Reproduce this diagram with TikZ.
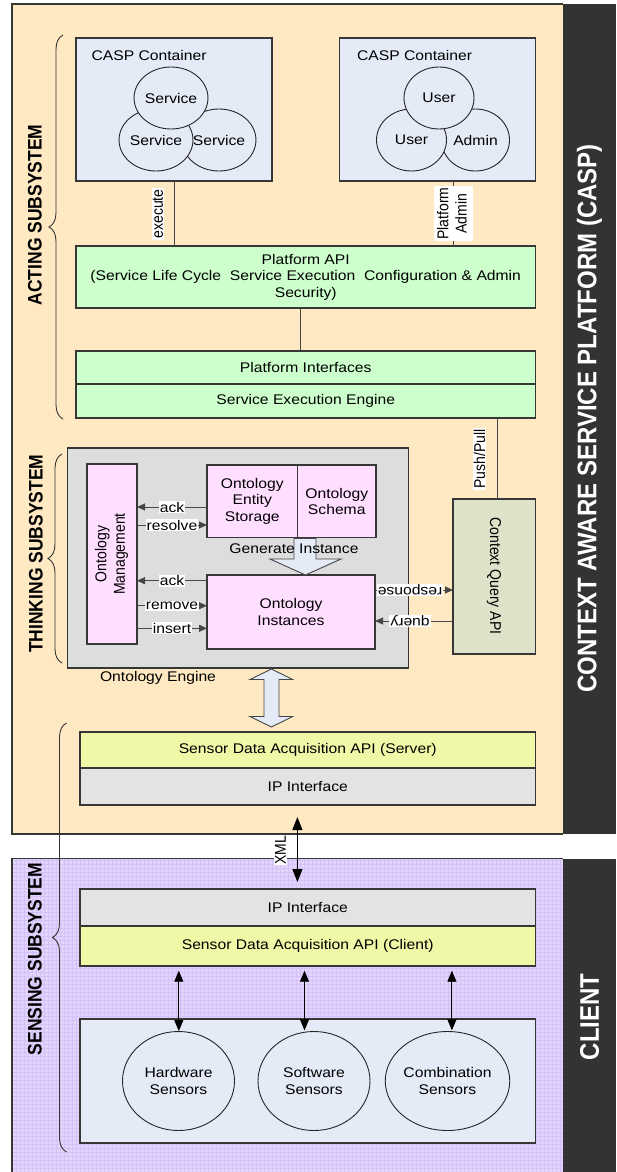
\documentclass[tikz,border=0pt]{standalone}
\usepackage{graphicx}
\usepackage{fontspec}
\setmainfont{Liberation Sans}[FakeStretch=1.12]
\newfontfamily\plainsans{Liberation Sans}
\usetikzlibrary{arrows.meta,decorations.pathreplacing,shapes.geometric}

\definecolor{orangebg}{RGB}{254,233,194}
\definecolor{contblue}{RGB}{228,235,247}
\definecolor{apigreen}{RGB}{204,255,204}
\definecolor{enggray}{RGB}{221,221,221}
\definecolor{ontpink}{RGB}{255,222,255}
\definecolor{cqgreen}{RGB}{221,226,200}
\definecolor{acqyellow}{RGB}{238,248,166}
\definecolor{ipgray}{RGB}{227,227,227}
\definecolor{darkbar}{RGB}{51,51,51}
\definecolor{lilac}{RGB}{226,212,252}
\definecolor{lilacgrid}{RGB}{212,194,247}
\definecolor{edge}{RGB}{55,55,55}
\definecolor{linkc}{RGB}{70,70,70}

\newcommand\fs{\fontsize{14}{16.5}\selectfont}
\newcommand\tall[1]{\scalebox{1}[1.12]{#1}}
\newcommand\sidefont{\plainsans\bfseries\fontsize{17.5}{20}\selectfont}
\newcommand\barfont{\plainsans\bfseries\fontsize{24}{28}\selectfont}
\newcommand\twolines[2]{\begin{tabular}{@{}c@{}}#1\\#2\end{tabular}}

\begin{document}
\begin{tikzpicture}[x=1pt,y=-1pt,
  box/.style={draw=edge, line width=1.1pt, inner sep=0pt, outer sep=0pt,
              anchor=north west, align=center, font=\fs},
  ell/.style={ellipse, draw=black!85, line width=0.9pt, inner sep=0pt,
              align=center, font=\fs, fill=contblue},
  link/.style={draw=linkc, line width=1pt},
  tag/.style={fill=white, inner sep=1pt, font=\fs},
  vtag/.style={fill=white, inner sep=1pt, rotate=90, font=\plainsans\fs},
  small/.style={draw=linkc, line width=0.9pt, -{Triangle[length=8pt,width=7pt]}},
  twoway/.style={draw=black, line width=0.9pt,
                 {Triangle[length=11pt,width=9pt]}-{Triangle[length=11pt,width=9pt]}},
  bigtwoway/.style={draw=black, line width=1pt,
                 {Triangle[length=13pt,width=10pt]}-{Triangle[length=13pt,width=10pt]}},
  block/.style={draw=linkc, line width=0.9pt, fill=contblue, line join=miter},
  bracec/.style={draw=black!80, line width=0.9pt, decorate,
                 decoration={brace, amplitude=14pt}},
  side/.style={rotate=90, font=\sidefont, inner sep=0pt},
  bartext/.style={rotate=90, text=white, font=\barfont, inner sep=0pt},
]
\fill[white] (0,0) rectangle (616,1172);
\useasboundingbox (0,0) rectangle (616,1172);

% platform and client areas
\fill[orangebg] (12,4) rectangle (562.7,834);
\fill[lilac] (12,858.7) rectangle (562.7,1172);
\draw[lilacgrid, line width=0.7pt, step=4pt] (12,1172) grid (562.7,858.7);
\draw[edge, line width=1.3pt] (562.7,4) -- (12,4) -- (12,834) -- (562.7,834);
\draw[edge, line width=1.3pt] (562.7,858.7) -- (12,858.7) -- (12,1172);
\fill[darkbar] (562.7,4) rectangle (616,834);
\fill[darkbar] (562.7,858.7) rectangle (616,1172);
\node[bartext] (casp) at (589.5,418.5) {\tall{CONTEXT AWARE SERVICE PLATFORM (CASP)}};
\node[bartext] (client) at (589.5,1016.7) {\tall{CLIENT}};

% subsystem braces and titles
\draw[bracec] (63,419) -- (63,35);
\draw[bracec] (62,663) -- (62,454);
\draw[bracec] (66.5,1152) -- (66.5,723);
\node[side] (acting) at (35,215) {\tall{ACTING SUBSYSTEM}};
\node[side] (thinking) at (36,553.7) {\tall{THINKING SUBSYSTEM}};
\node[side] (sensing) at (35,959) {\tall{SENSING SUBSYSTEM}};

% acting subsystem
\node[box, fill=contblue, minimum width=196pt, minimum height=143pt] (contL) at (76,38) {};
\node[box, fill=contblue, minimum width=196pt, minimum height=143pt] (contR) at (339.5,38) {};
\node[anchor=base west, font=\fs] (contLt) at (88,61) {CASP Container};
\node[anchor=base west, font=\fs] (contRt) at (353.5,61) {CASP Container};

\node[ell, minimum width=70pt, minimum height=62pt] (svcR) at (219,140) {Service};
\node[ell, minimum width=70pt, minimum height=62pt] (svcL) at (156,140) {Service};
\node[ell, minimum width=70pt, minimum height=62pt] (svcT) at (171,98) {Service};
\node[ell, minimum width=68pt, minimum height=62pt] (admin) at (475.5,140) {Admin};
\node[ell, minimum width=70pt, minimum height=62pt] (userL) at (411.5,140) {User};
\node[ell, minimum width=70pt, minimum height=62pt] (userT) at (439,98) {User};

\node[box, fill=apigreen, minimum width=459.5pt, minimum height=62pt] (api) at (76,246)
  {Platform API\\(Service Life Cycle\phantom{,} Service Execution\phantom{,} Configuration \& Admin\\Security)};
\node[box, fill=apigreen, minimum width=459.5pt, minimum height=33pt] (pif) at (76,351) {Platform Interfaces};
\node[box, fill=apigreen, minimum width=459.5pt, minimum height=34pt] (see) at (76,384) {Service Execution Engine};

\coordinate (xexec) at (174,0);
\coordinate (xadmin) at (453.8,0);
\coordinate (xpif) at (300,0);
\coordinate (xpush) at (497.4,0);
\draw[link] (contL.south -| xexec) -- (api.north -| xexec);
\node[vtag] (lexec) at (158,214) {\tall{execute}};
\draw[link] (contR.south -| xadmin) -- (api.north -| xadmin)
  node[vtag, pos=0.5] (ladmin) {\tall{\twolines{Platform}{Admin}}};
\draw[link] (api.south -| xpif) -- (pif.north -| xpif);

% thinking subsystem
\node[box, fill=cqgreen, minimum width=82.5pt, minimum height=155pt] (cqa) at (453,499) {};
\node[rotate=-90, font=\plainsans\fs, inner sep=0pt] (cqat) at (494,576) {\tall{Context Query API}};
\draw[link] (see.south -| xpush) -- (cqa.north -| xpush);
\node[vtag] (lpush) at (479.5,459) {\tall{Push/Pull}};

\node[box, fill=enggray, minimum width=341pt, minimum height=220pt] (eng) at (67.5,448) {};
\node[font=\fs] (englab) at (158,678) {Ontology Engine};
\node[box, fill=ontpink, minimum width=50pt, minimum height=180pt] (mgmt) at (87,464) {};
\node[rotate=90, font=\plainsans\fs, inner sep=0pt] (mgmtt) at (112,554)
  {\tall{\twolines{Ontology}{Management}}};
\node[box, fill=ontpink, minimum width=90.5pt, minimum height=72.5pt] (stor) at (207,465)
  {Ontology\\Entity\\Storage};
\node[box, fill=ontpink, minimum width=78.5pt, minimum height=72.5pt] (schema) at (297.5,465)
  {Ontology\\Schema};
\node[box, fill=ontpink, minimum width=168pt, minimum height=74pt] (inst) at (207,575)
  {Ontology\\Instances};

\draw[block] (294,538.5) -- (316,538.5) -- (316,559) -- (341,559) -- (305.5,575)
  -- (270,559) -- (294,559) -- cycle;
\node[font=\fs] (gen) at (294,549) {Generate Instance};

\coordinate (r1) at (0,507);
\coordinate (r2) at (0,525);
\coordinate (r3) at (0,580.7);
\coordinate (r4) at (0,605.7);
\coordinate (r5) at (0,628.3);
\coordinate (r6) at (0,590);
\coordinate (r7) at (0,621);
\draw[small] (stor.west |- r1) -- (mgmt.east |- r1) node[tag, midway] {ack};
\draw[small] (mgmt.east |- r2) -- (stor.west |- r2) node[tag, midway] {resolve};
\draw[small] (inst.west |- r3) -- (mgmt.east |- r3) node[tag, midway] {ack};
\draw[small] (mgmt.east |- r4) -- (inst.west |- r4) node[tag, midway] {remove};
\draw[small] (mgmt.east |- r5) -- (inst.west |- r5) node[tag, midway] {insert};
\draw[small] (inst.east |- r6) -- (cqa.west |- r6) node[tag, pos=0.45, rotate=180] {response};
\draw[small] (cqa.west |- r7) -- (inst.east |- r7) node[tag, pos=0.55, rotate=180] {query};

% link between engine and sensor acquisition
\draw[block] (271.4,669) -- (292.7,679.5) -- (279,679.5) -- (279,716.5) -- (292.7,716.5)
  -- (271.4,727) -- (250,716.5) -- (264,716.5) -- (264,679.5) -- (250,679.5) -- cycle;

\node[box, fill=acqyellow, minimum width=455.5pt, minimum height=36pt] (sdas) at (80,732)
  {Sensor Data Acquisition API (Server)};
\node[box, fill=ipgray, minimum width=455.5pt, minimum height=37pt] (ips) at (80,768) {IP Interface};

% sensing subsystem
\node[box, fill=ipgray, minimum width=455.5pt, minimum height=37pt] (ipc) at (80,889) {IP Interface};
\node[box, fill=acqyellow, minimum width=455.5pt, minimum height=40pt] (sdac) at (80,926)
  {Sensor Data Acquisition API (Client)};
\node[box, fill=contblue, minimum width=455.5pt, minimum height=124pt] (sens) at (80,1019) {};
\node[ell, minimum width=112pt, minimum height=99pt] (hw) at (178.5,1081) {Hardware\\Sensors};
\node[ell, minimum width=112pt, minimum height=99pt] (sw) at (314,1081) {Software\\Sensors};
\node[ell, minimum width=112pt, minimum height=99pt] (comb) at (447.5,1081) {Combination\\Sensors};

\coordinate (xhw) at (178.8,0);
\coordinate (xsw) at (304.5,0);
\coordinate (xcomb) at (451.9,0);
\draw[twoway, shorten <=4.7pt] (sdac.south -| xhw) -- (hw.north -| xhw);
\draw[twoway, shorten <=4.7pt, shorten >=0.7pt] (sdac.south -| xsw) -- (sw.north -| xsw);
\draw[twoway, shorten <=4.7pt, shorten >=0.7pt] (sdac.south -| xcomb) -- (comb.north -| xcomb);

\coordinate (xxml) at (297.4,0);
\draw[bigtwoway, shorten <=12pt, shorten >=7pt] (ips.south -| xxml) -- (ipc.north -| xxml);
\node[vtag] (lxml) at (280.6,850) {\tall{XML}};
\end{tikzpicture}
\end{document}
